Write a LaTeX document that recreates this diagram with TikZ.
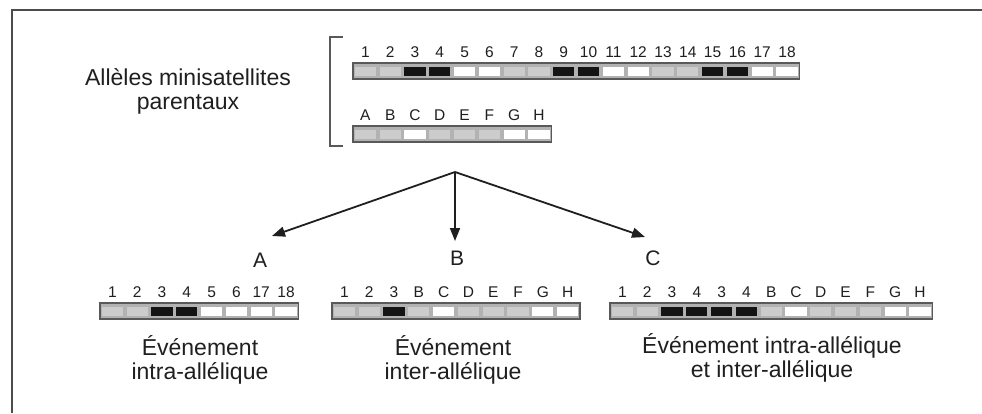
\documentclass[tikz,border=0pt]{standalone}
\usepackage{fontspec}
\setmainfont{Liberation Sans}
\usetikzlibrary{arrows.meta}
\definecolor{ink}{gray}{0.12}
\colorlet{segG}{black!20}
\colorlet{segW}{white}
\colorlet{segB}{black!92}
\tikzset{
  barbox/.style={draw=black!65, line width=1.3pt, fill=black!30},
  numlab/.style={font=\fontsize{15.5}{16}\selectfont, text=ink, inner sep=0pt, anchor=base},
  caption/.style={font=\fontsize{23}{24}\selectfont, text=ink, align=center, inner sep=0pt},
  letterlab/.style={font=\fontsize{21}{22}\selectfont, text=ink, inner sep=0pt},
  flow/.style={line width=1.8pt, draw=ink, -{Triangle[length=13pt,width=10pt]}},
  frameline/.style={line width=1.6pt, draw=black!70},
  bracketline/.style={line width=1.3pt, draw=black!65},
}
\newcommand{\allelebar}[5]{%
  \draw[barbox] (#2,#3) rectangle ({#2+#4*24.8},{#3+16});
  \foreach [count=\i] \lab/\typ in {#5} {
    \pgfmathsetmacro{\xa}{#2+(\i-1)*24.8}
    \fill[fill=\typ] ({\xa+1.8},{#3+3.5}) rectangle ({\xa+23},{#3+12.5});
    \node[numlab] (#1-\i) at ({\xa+12.4},{#3-5.5}) {\lab};
  }
}
\begin{document}
\begin{tikzpicture}[x=1pt,y=-1pt]
\useasboundingbox (0,0) rectangle (982,413);
% frame
\draw[frameline] (12,413) -- (12,10) -- (982,10);
% parental label and bracket
\node[caption] (parents) at (188,91) {Allèles minisatellites\\parentaux};
\draw[bracketline] (343,37) -- (330,37) -- (330,146) -- (343,146);
\allelebar{p1}{353}{63}{18}{1/segG,2/segG,3/segB,4/segB,5/segW,6/segW,7/segG,8/segG,9/segB,10/segB,11/segW,12/segW,13/segG,14/segG,15/segB,16/segB,17/segW,18/segW}
\allelebar{p2}{353}{126}{8}{A/segG,B/segG,C/segW,D/segG,E/segG,F/segG,G/segW,H/segW}
% arrows
\coordinate (apex) at (455,172);
\coordinate (tipA) at (272,236);
\coordinate (tipB) at (455,241);
\coordinate (tipC) at (645,237);
\draw[flow] (apex) -- (tipA);
\draw[flow] (apex) -- (tipB);
\draw[flow] (apex) -- (tipC);
\node[letterlab] (la) at (260,260) {A};
\node[letterlab] (lb) at (457,258) {B};
\node[letterlab] (lc) at (653,258) {C};
% result alleles
\allelebar{ra}{100}{303}{8}{1/segG,2/segG,3/segB,4/segB,5/segW,6/segW,17/segW,18/segW}
\allelebar{rb}{332}{303}{10}{1/segG,2/segG,3/segB,B/segG,C/segW,D/segG,E/segG,F/segG,G/segW,H/segW}
\allelebar{rc}{610}{303}{13}{1/segG,2/segG,3/segB,4/segB,3/segB,4/segB,B/segG,C/segW,D/segG,E/segG,F/segG,G/segW,H/segW}
% captions
\node[caption] (ca) at (200,360) {Événement\\intra-allélique};
\node[caption] (cb) at (453,360) {Événement\\inter-allélique};
\node[caption] (cc) at (772,358) {Événement intra-allélique\\et inter-allélique};
\end{tikzpicture}
\end{document}
